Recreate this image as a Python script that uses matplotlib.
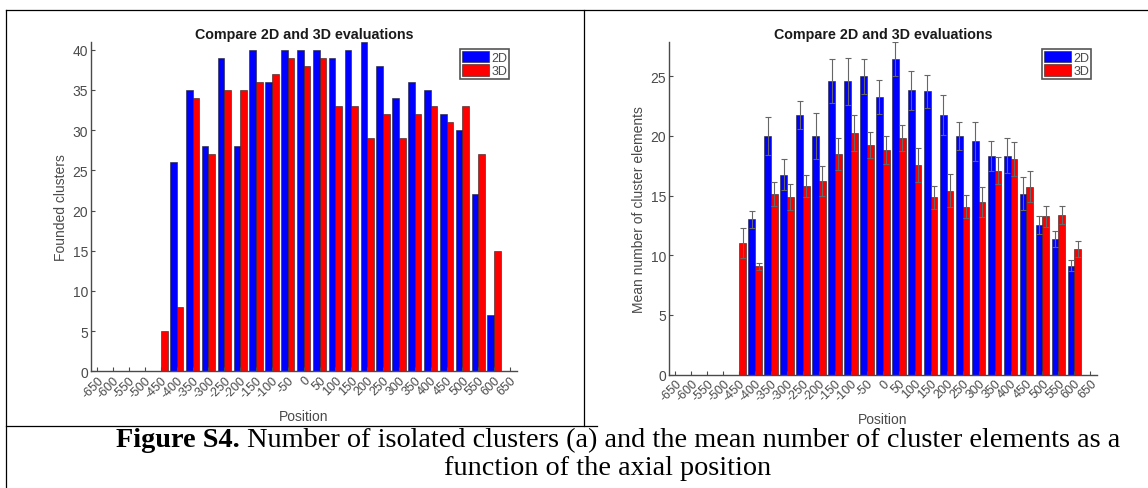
import numpy as np
import matplotlib
matplotlib.use("Agg")
import matplotlib.pyplot as plt
from matplotlib.lines import Line2D

# group centres on the position axis
positions = [-450, -400, -350, -300, -250, -200, -150, -100, -50, 0, 50,
             100, 150, 200, 250, 300, 350, 400, 450, 500, 550, 600]
xticks = list(range(-650, 651, 50))

# (a) founded clusters
clusters_2d = [0, 26, 35, 28, 39, 28, 40, 36, 40, 40, 40,
               39, 40, 41, 38, 34, 36, 35, 32, 30, 22, 7]
clusters_3d = [5, 8, 34, 27, 35, 35, 36, 37, 39, 38, 39,
               33, 33, 29, 32, 29, 32, 33, 31, 33, 27, 15]

# (b) mean number of cluster elements, with error
mean_2d = [0, 13.0, 20.0, 16.75, 21.75, 20.0, 24.6, 24.57, 25.0, 23.26, 26.45,
           23.82, 23.74, 21.78, 20.02, 19.55, 18.32, 18.34, 15.16, 12.53, 11.38, 9.12]
err_2d = [np.nan, 0.68, 1.56, 1.31, 1.18, 1.95, 1.82, 1.96, 1.45, 1.4, 1.39,
          1.65, 1.39, 1.67, 1.17, 1.62, 1.23, 1.48, 1.37, 0.73, 0.65, 0.45]
mean_3d = [11.02, 9.07, 15.13, 14.9, 15.8, 16.22, 18.48, 20.27, 19.27, 18.82, 19.85,
           17.56, 14.85, 15.41, 14.07, 14.49, 17.08, 18.06, 15.74, 13.26, 13.4, 10.5]
err_3d = [1.26, 0.3, 0.97, 1.07, 0.92, 1.23, 1.34, 1.51, 1.08, 1.15, 1.09,
          1.4, 0.98, 1.4, 0.98, 1.25, 1.12, 1.4, 1.29, 0.86, 0.75, 0.69]

BLUE = "#0000ff"
RED = "#ff0000"
GREY = "#4a4a4a"
W = 1148
H = 489

plt.rcParams["font.family"] = ["Liberation Sans", "DejaVu Sans"]

fig = plt.figure(figsize=(W / 100, H / 100), dpi=100)


def px_rect(x0, x1, ytop, ybot):
    return [x0 / W, 1 - ybot / H, (x1 - x0) / W, (ybot - ytop) / H]


def style_axes(ax, ylabel, ymax, yticks, legend_anchor):
    ax.set_xlim(-670, 671)
    ax.set_ylim(0, ymax)
    ax.set_xticks(xticks)
    ax.set_xticklabels([str(t) for t in xticks], rotation=45, ha="right",
                       rotation_mode="anchor", fontsize=9, color=GREY)
    ax.set_yticks(yticks)
    ax.tick_params(axis="y", labelsize=10, labelcolor=GREY)
    ax.tick_params(direction="in", length=3, width=0.8, color=GREY, pad=2)
    for s in ("top", "right"):
        ax.spines[s].set_visible(False)
    for s in ("left", "bottom"):
        ax.spines[s].set_color(GREY)
        ax.spines[s].set_linewidth(1.0)
    ax.set_title("Compare 2D and 3D evaluations", fontsize=10.3,
                 fontweight="bold", color="#1a1a1a", pad=3)
    ax.set_xlabel("Position", fontsize=10, color=GREY, labelpad=6)
    ax.set_ylabel(ylabel, fontsize=10, color=GREY, labelpad=3)
    leg = ax.legend(loc="upper right", bbox_to_anchor=legend_anchor,
                    fontsize=9, fancybox=False, handlelength=2.2,
                    handleheight=1.0, handletextpad=0.15, borderpad=0.15,
                    labelspacing=0.05, borderaxespad=0, framealpha=1)
    leg.get_frame().set_edgecolor("#555555")
    leg.get_frame().set_linewidth(1.2)
    for t in leg.get_texts():
        t.set_color(GREY)


bw = 21
pos = np.array(positions)

# left panel
ax1 = fig.add_axes(px_rect(91, 516.7, 42.7, 372.3))
ax1.bar(pos - bw / 2, clusters_2d, bw, color=BLUE, edgecolor="#222222",
        linewidth=0.4, label="2D")
ax1.bar(pos + bw / 2, clusters_3d, bw, color=RED, edgecolor="#222222",
        linewidth=0.4, label="3D")
style_axes(ax1, "Founded clusters", 41, range(0, 41, 5), (0.982, 0.978))

# right panel
ax2 = fig.add_axes(px_rect(669, 1097, 43.3, 375.5))
ax2.bar(pos - bw / 2, mean_2d, bw, color=BLUE, edgecolor="#222222",
        linewidth=0.4, label="2D")
ax2.bar(pos + bw / 2, mean_3d, bw, color=RED, edgecolor="#222222",
        linewidth=0.4, label="3D")
ax2.errorbar(pos - bw / 2, mean_2d, yerr=err_2d, fmt="none", ecolor="#666666",
             elinewidth=0.8, capsize=2, capthick=0.8)
ax2.errorbar(pos + bw / 2, mean_3d, yerr=err_3d, fmt="none", ecolor="#666666",
             elinewidth=0.8, capsize=2, capthick=0.8)
style_axes(ax2, "Mean number of cluster elements", 27.85, range(0, 26, 5),
           (0.986, 0.98))

# table borders around the figure
border = dict(color="black", linewidth=0.9)
for (x0, y0, x1, y1) in [(6, 11, W, 11), (6, 11, 6, H), (583.5, 11, 583.5, 427),
                         (6, 427, 597, 427)]:
    fig.add_artist(Line2D([x0 / W, x1 / W], [1 - y0 / H, 1 - y1 / H],
                          transform=fig.transFigure, **border))

# caption
serif = ["Liberation Serif", "DejaVu Serif"]
cap_size = 20.3
bold_part = "Figure S4."
rest = " Number of isolated clusters (a) and the mean number of cluster elements as a"
renderer = fig.canvas.get_renderer()
tb = fig.text(0, 0, bold_part, fontsize=cap_size, fontweight="bold", family=serif)
tr = fig.text(0, 0, rest, fontsize=cap_size, family=serif)
wb = tb.get_window_extent(renderer).width
wr = tr.get_window_extent(renderer).width
cx = 618
x_start = cx - (wb + wr) / 2
base1 = 1 - 447 / H
tb.set_position((x_start / W, base1))
tr.set_position(((x_start + wb) / W, base1))
tb.set_va("baseline")
tr.set_va("baseline")
fig.text(608 / W, 1 - 475 / H, "function of the axial position", fontsize=cap_size,
         family=serif, ha="center", va="baseline")

fig.savefig("out.png", dpi=100)
